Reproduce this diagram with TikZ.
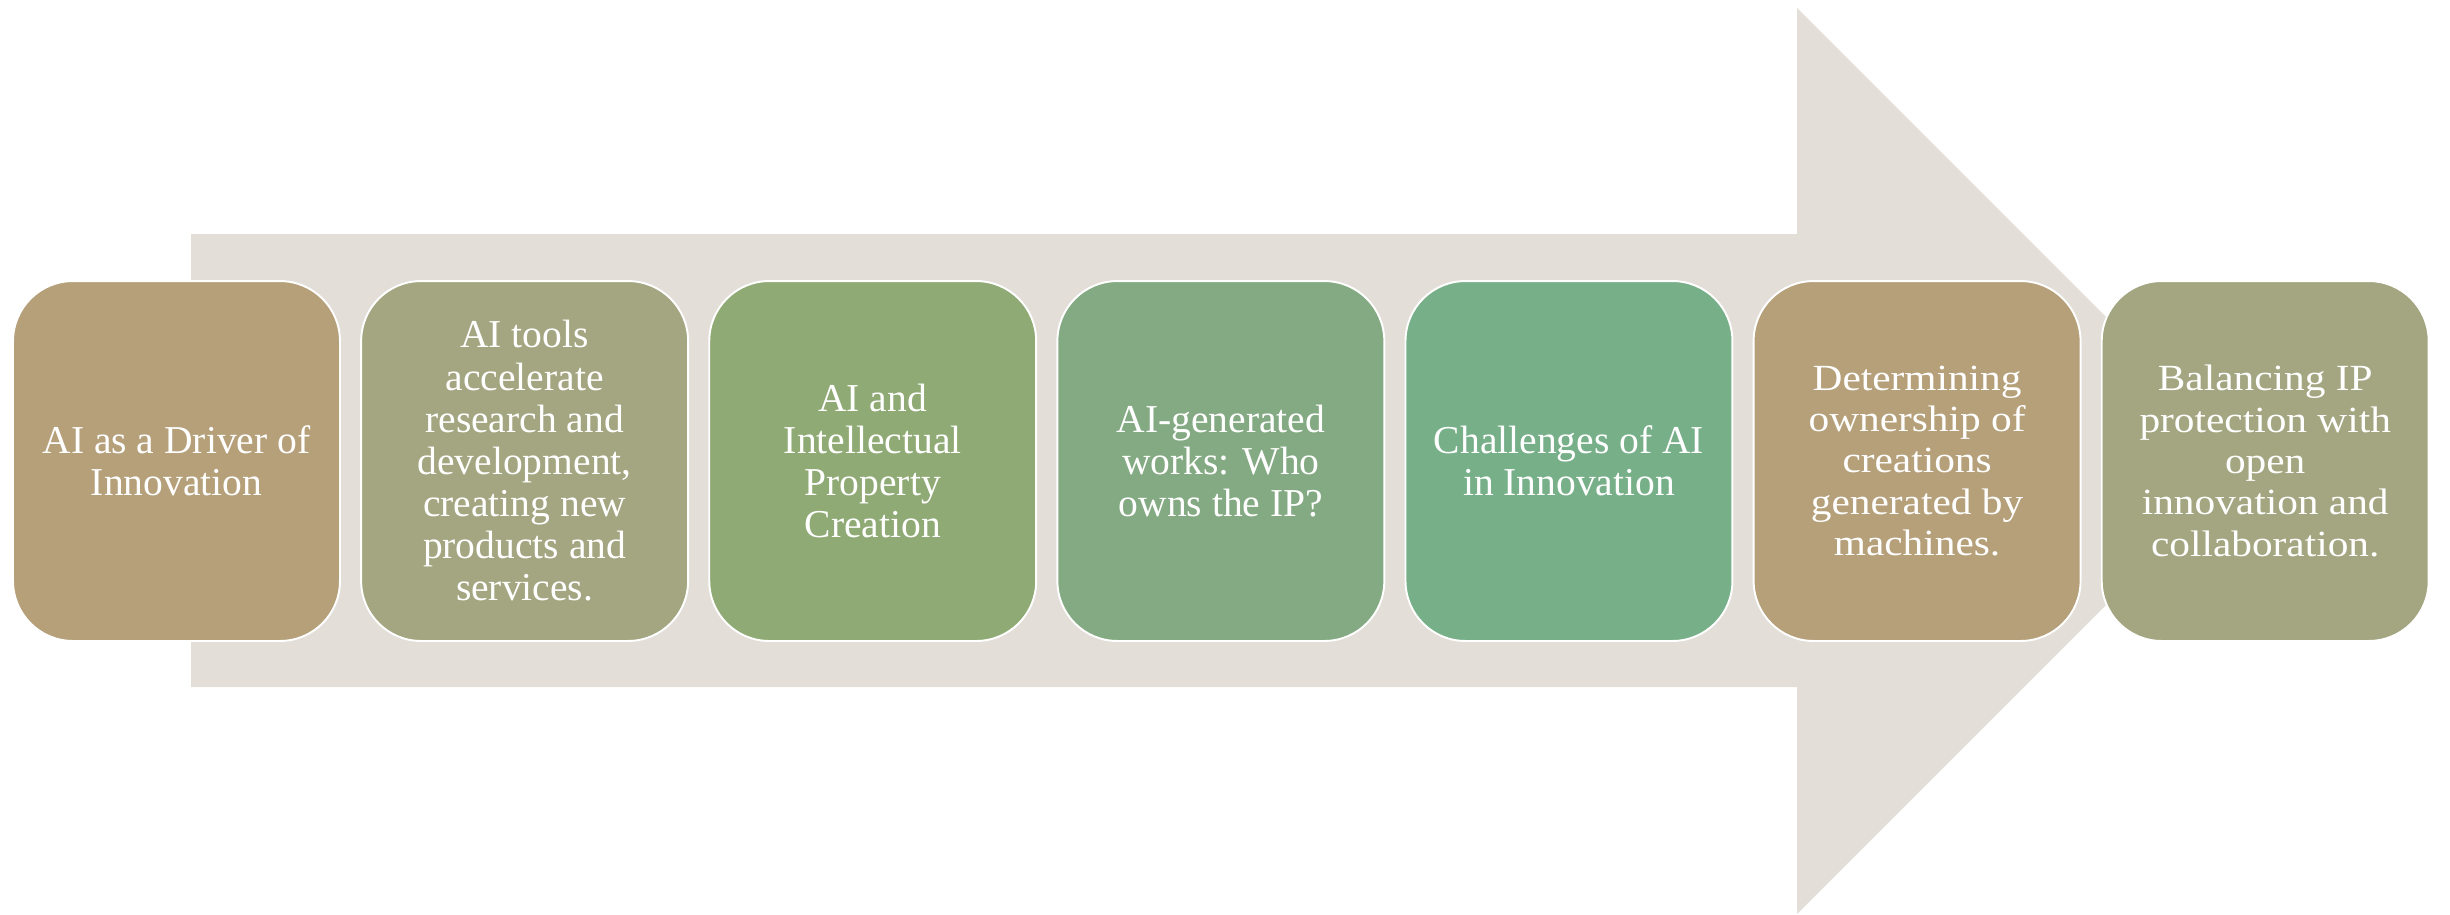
\documentclass[tikz,border=0pt]{standalone}
\usepackage{fontspec}
\setmainfont{Liberation Serif}
\newfontfamily\widefont[FakeStretch=1.12]{Liberation Serif}
\usetikzlibrary{positioning}
\definecolor{arrowbg}{HTML}{E3DFD8}
\definecolor{tan}{HTML}{B5A07A}
\definecolor{olive}{HTML}{A3A680}
\definecolor{leaf}{HTML}{8FAA74}
\definecolor{sage}{HTML}{84AA83}
\definecolor{mint}{HTML}{77AF89}
\tikzset{stage/.style={draw=white, line width=1.1pt, rounded corners=1.2cm,
  minimum width=6.54cm, minimum height=7.2cm, inner sep=0pt,
  align=center, text=white, font=\fontsize{22.5}{24}\selectfont},
  lastpart/.style={stage, font=\widefont\fontsize{21}{23.5}\selectfont}}
\begin{document}
\begin{tikzpicture}[x=0.02cm,y=-0.02cm,node distance=0.385cm]
\useasboundingbox (0,0) rectangle (2450,914);
\fill[arrowbg] (191,234) -- (1797,234) -- (1797,8) -- (2250,461) -- (1797,914)
  -- (1797,687) -- (191,687) -- cycle;

\node[stage, fill=tan] (driver) at (176.5,461) {AI as a Driver of\\Innovation};
\node[stage, fill=olive, right=of driver] (tools) {AI tools\\accelerate\\research and\\development,\\creating new\\products and\\services.};
\node[stage, fill=leaf, right=of tools] (ipcreate) {AI and\\Intellectual\\Property\\Creation};
\node[stage, fill=sage, right=of ipcreate] (whoowns) {AI-generated\\works: Who\\owns the IP?};
\node[stage, fill=mint, right=of whoowns] (challenge) {Challenges of AI\\in Innovation};
\node[lastpart, fill=tan, right=of challenge] (ownership) {Determining\\ownership of\\creations\\generated by\\machines.};
\node[lastpart, fill=olive, right=of ownership] (balance) {Balancing IP\\protection with\\open\\innovation and\\collaboration.};
\end{tikzpicture}
\end{document}
